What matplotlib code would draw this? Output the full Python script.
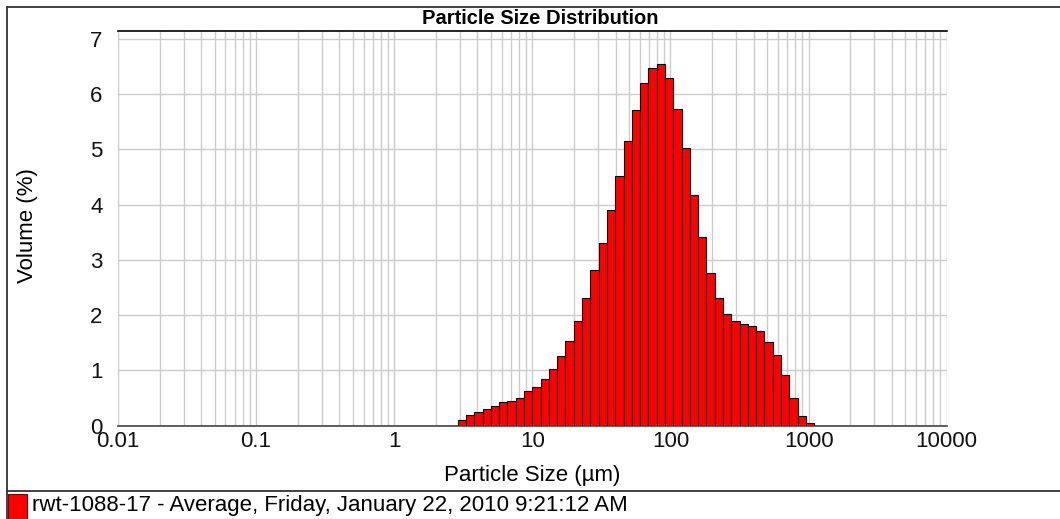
import numpy as np
import matplotlib.pyplot as plt
from matplotlib.lines import Line2D
from matplotlib.patches import Rectangle
from matplotlib.ticker import LogLocator, NullFormatter, FixedLocator, FixedFormatter

plt.rcParams['font.family'] = ['Liberation Sans', 'DejaVu Sans']

# size class edges (um) and volume per class (%)
edges = [2.884, 3.311, 3.802, 4.365, 5.012, 5.754, 6.607, 7.586, 8.710, 10.000,
         11.482, 13.183, 15.136, 17.378, 19.953, 22.909, 26.303, 30.200, 34.674, 39.811,
         45.709, 52.481, 60.256, 69.183, 79.433, 91.201, 104.713, 120.226, 138.038, 158.489,
         181.970, 208.930, 239.883, 275.423, 316.228, 363.078, 416.869, 478.630, 549.541, 630.957,
         724.436, 831.764, 954.993, 1096.478]
volume = [0.10, 0.19, 0.25, 0.31, 0.36, 0.42, 0.44, 0.51, 0.62, 0.70,
          0.84, 1.03, 1.27, 1.54, 1.90, 2.32, 2.81, 3.30, 3.91, 4.52,
          5.16, 5.72, 6.20, 6.48, 6.55, 6.29, 5.74, 5.02, 4.18, 3.42,
          2.77, 2.31, 2.02, 1.90, 1.84, 1.80, 1.71, 1.52, 1.28, 0.91,
          0.51, 0.17, 0.04]
x_ticks = [0.01, 0.1, 1, 10, 100, 1000, 10000]
x_labels = ['0.01', '0.1', '1', '10', '100', '1000', '10000']
y_ticks = [0, 1, 2, 3, 4, 5, 6, 7]

title = 'Particle Size Distribution'
x_title = 'Particle Size (µm)'
y_title = 'Volume (%)'
legend_text = 'rwt-1088-17 - Average, Friday, January 22, 2010 9:21:12 AM'

W, H = 1060, 519
fig = plt.figure(figsize=(W / 100, H / 100), dpi=100)
ax = fig.add_axes([118 / W, 1 - 425.7 / H, (946.7 - 118) / W, (425.7 - 30.7) / H])

e = np.array(edges)
ax.bar(e[:-1], volume, width=np.diff(e), align='edge', color='#ff0000',
       edgecolor='black', linewidth=0.8, zorder=3)

ax.set_xscale('log')
ax.set_xlim(0.01, 10000)
ax.set_ylim(0, 7.15)
ax.xaxis.set_major_locator(FixedLocator(x_ticks))
ax.xaxis.set_major_formatter(FixedFormatter(x_labels))
ax.xaxis.set_minor_locator(LogLocator(base=10, subs=np.arange(2, 10)))
ax.xaxis.set_minor_formatter(NullFormatter())
ax.set_yticks(y_ticks)
ax.tick_params(axis='both', which='both', length=0, labelsize=16, labelcolor='#111111')
ax.tick_params(axis='x', pad=4)
ax.tick_params(axis='y', pad=11)

ax.grid(True, which='both', axis='x', color='#cccccc', linewidth=1.0, zorder=0)
ax.grid(True, which='major', axis='y', color='#cccccc', linewidth=1.0, zorder=0)
ax.set_axisbelow(True)

for s in ['left', 'right']:
    ax.spines[s].set_visible(False)
ax.spines['top'].set_color('black')
ax.spines['top'].set_linewidth(1.2)
ax.spines['bottom'].set_color('#444444')
ax.spines['bottom'].set_linewidth(1.2)

fig.text(540 / W, 1 - 19 / H, title, ha='center', va='center',
         fontsize=14.5, fontweight='bold')
fig.text(532 / W, 1 - 475 / H, x_title, ha='center', va='center', fontsize=16)
fig.text(28 / W, 1 - 226 / H, y_title, ha='center', va='center', fontsize=16,
         rotation=90)

# outer frame and legend strip
frame = dict(color='#333333', linewidth=1.3, transform=fig.transFigure)
fig.add_artist(Line2D([7 / W, 7 / W], [0, 1 - 7 / H], **frame))
fig.add_artist(Line2D([7 / W, 1], [1 - 7 / H, 1 - 7 / H], **frame))
fig.add_artist(Line2D([7 / W, 1], [1 - 490.7 / H, 1 - 490.7 / H], **frame))
fig.add_artist(Rectangle((8 / W, -0.01), 18.5 / W, 25 / H + 0.01,
                         transform=fig.transFigure, facecolor='#ff0000',
                         edgecolor='#7a0000', linewidth=0.8))
fig.text(32 / W, 1 - 505 / H, legend_text, ha='left', va='center', fontsize=16)

fig.savefig('out.png', dpi=100)
